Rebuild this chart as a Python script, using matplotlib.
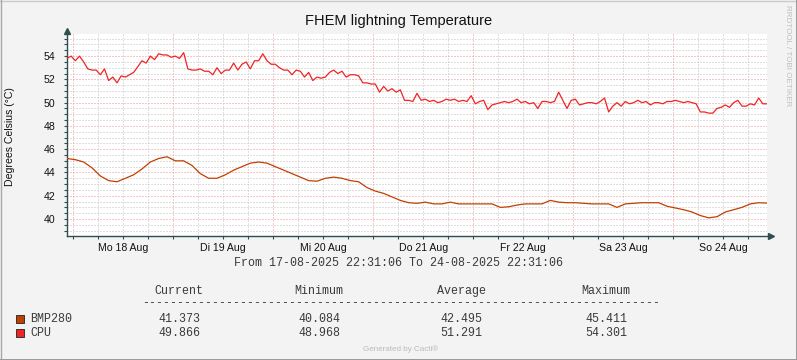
import matplotlib
matplotlib.use("Agg")
import matplotlib.pyplot as plt
import numpy as np
import pandas as pd
from matplotlib.lines import Line2D
from matplotlib.patches import Rectangle

# ---- data -------------------------------------------------------------
start = pd.Timestamp("2025-08-17 22:31:06")
end = pd.Timestamp("2025-08-24 22:31:06")

# CPU temperature, one reading per hour
cpu = [
    53.8, 54.0, 53.6, 54.0, 53.5, 52.9, 52.8, 52.8, 52.4, 52.9,
    51.9, 52.2, 51.7, 52.3, 52.2, 52.4, 52.6, 53.1, 53.6, 53.4,
    54.0, 53.7, 54.2, 54.1, 54.1, 53.9, 54.0, 53.8, 54.3, 52.9,
    52.8, 52.8, 52.9, 52.7, 52.7, 52.4, 53.0, 52.5, 52.8, 52.8,
    53.4, 52.8, 53.3, 53.5, 52.9, 53.6, 53.6, 54.2, 53.6, 53.3,
    53.3, 53.0, 52.8, 52.8, 52.4, 52.8, 52.7, 52.2, 52.6, 51.9,
    52.2, 52.1, 52.2, 52.6, 52.8, 52.5, 52.7, 52.2, 52.4, 52.4,
    52.3, 51.7, 51.7, 51.6, 51.6, 50.9, 51.4, 51.0, 51.2, 50.9,
    51.1, 50.2, 50.2, 50.1, 50.8, 50.2, 50.3, 50.1, 50.2, 50.0,
    50.1, 50.3, 50.2, 50.3, 50.1, 50.2, 50.1, 50.6, 49.9, 50.1,
    50.2, 49.4, 49.8, 49.9, 50.0, 50.1, 50.0, 50.1, 50.3, 50.0,
    50.1, 49.9, 50.0, 49.5, 50.1, 50.1, 50.0, 50.1, 50.9, 50.2,
    49.5, 50.2, 50.3, 49.8, 49.9, 50.0, 50.0, 49.9, 50.1, 50.4,
    49.2, 49.7, 50.0, 49.7, 50.1, 49.9, 50.0, 50.2, 50.0, 50.1,
    49.8, 50.0, 50.0, 49.9, 50.1, 50.1, 50.2, 50.1, 50.0, 50.1,
    50.0, 49.9, 49.2, 49.2, 49.1, 49.1, 49.5, 49.6, 49.8, 49.6,
    50.0, 50.2, 49.7, 49.7, 49.9, 49.8, 50.4, 49.9, 49.9,
]

# BMP280 temperature, one reading every two hours
bmp280 = [
    45.2, 45.1, 44.9, 44.4, 43.7, 43.3, 43.2, 43.5, 43.8, 44.3,
    44.9, 45.2, 45.35, 45.0, 45.0, 44.6, 43.9, 43.5, 43.5, 43.8,
    44.2, 44.5, 44.8, 44.9, 44.8, 44.5, 44.2, 43.9, 43.6, 43.3,
    43.25, 43.5, 43.6, 43.5, 43.3, 43.2, 42.7, 42.4, 42.2, 41.9,
    41.6, 41.4, 41.35, 41.45, 41.3, 41.3, 41.45, 41.3, 41.3, 41.3,
    41.3, 41.3, 41.0, 41.05, 41.2, 41.3, 41.3, 41.3, 41.6, 41.45,
    41.4, 41.4, 41.35, 41.3, 41.3, 41.3, 41.0, 41.3, 41.35, 41.4,
    41.4, 41.4, 41.1, 40.95, 40.8, 40.6, 40.3, 40.1, 40.2, 40.6,
    40.8, 41.0, 41.3, 41.4, 41.37,
]

day_labels = ["Mo 18 Aug", "Di 19 Aug", "Mi 20 Aug", "Do 21 Aug",
              "Fr 22 Aug", "Sa 23 Aug", "So 24 Aug"]

names = ["BMP280", "CPU"]
colors = ["#C04000", "#F02424"]
current = [41.373, 49.866]
minimum = [40.084, 48.968]
average = [42.495, 51.291]
maximum = [45.411, 54.301]

# ---- figure -----------------------------------------------------------
W, H = 797, 360
SANS = ["Liberation Sans", "DejaVu Sans"]
MONO = ["Liberation Mono", "DejaVu Sans Mono"]
AXIS = "#2F4F4F"
TXT = "#3A3A3A"


def fx(px):
    return px / W


def fy(py):
    return 1 - py / H


fig = plt.figure(figsize=(W / 100, H / 100), dpi=100, facecolor="#F3F3F3")
ax = fig.add_axes([fx(67), fy(236), 700 / W, 202 / H])
ax.set_facecolor("white")

cpu_times = pd.date_range(start, end, freq="1h")
bmp_times = pd.date_range(start, end, freq="2h")

ax.set_xlim(start, end)
ax.set_ylim(38.54, 55.9)

# dotted grid
for v in np.arange(39, 55.6, 0.5):
    major = v % 2 == 0
    ax.axhline(v, color="#EE9090" if major else "#C0C0C0", lw=0.72,
               ls=(0, (1, 2)), zorder=1)
six_hours = pd.date_range("2025-08-18 00:00", "2025-08-24 18:00", freq="6h")
for t in six_hours:
    ax.axvline(t, color="#EE9090" if t.hour == 0 else "#C0C0C0", lw=0.72,
               ls=(0, (1, 2)), zorder=1)

ax.plot(bmp_times, bmp280, color=colors[0], lw=0.9, zorder=3)
ax.plot(cpu_times, cpu, color=colors[1], lw=0.9, zorder=3)

# axes, ticks
for s in ["top", "right"]:
    ax.spines[s].set_visible(False)
for s in ["left", "bottom"]:
    ax.spines[s].set_color(AXIS)
    ax.spines[s].set_linewidth(1.0)

noons = pd.date_range("2025-08-18 12:00", periods=7, freq="D")
ax.set_xticks(noons, labels=day_labels)
ax.set_xticks(six_hours, minor=True)
ax.set_yticks(np.arange(40, 55, 2), labels=[str(v) for v in range(40, 55, 2)])
ax.set_yticks(np.arange(39, 55.6, 0.5), minor=True)
ax.tick_params(axis="both", which="both", direction="out", color=AXIS,
               width=0.8, labelsize=7.6)
ax.tick_params(axis="both", which="major", length=2.5)
ax.tick_params(axis="both", which="minor", length=2)
ax.tick_params(axis="x", pad=2.5)
ax.tick_params(axis="y", pad=6)
for lab in ax.get_xticklabels() + ax.get_yticklabels():
    lab.set_family(SANS)
    lab.set_color("#111111")

# axis arrows
ax.plot([1.006], [0], marker=">", ms=4.5, color=AXIS, transform=ax.transAxes,
        clip_on=False, zorder=5)
ax.plot([0], [1.015], marker="^", ms=4.5, color=AXIS, transform=ax.transAxes,
        clip_on=False, zorder=5)

# ---- texts ------------------------------------------------------------
fig.text(fx(399), fy(21), "FHEM lightning Temperature", ha="center",
         va="center", fontsize=10.5, family=SANS, color="#111111")
fig.text(fx(10), fy(137), "Degrees Celsius (°C)", ha="center", va="center",
         rotation=90, fontsize=7.6, family=SANS, color="#111111")
fig.text(fx(788), fy(56), "RRDTOOL / TOBI OETIKER", ha="center", va="center",
         rotation=270, fontsize=5.8, family=SANS, color="#BEBEBE")
fig.text(fx(398), fy(263), "From 17-08-2025 22:31:06 To 24-08-2025 22:31:06",
         ha="center", va="center", fontsize=8.4, family=MONO, color=TXT)

col_x = [179, 319, 461, 606]
for x, head in zip(col_x, ["Current", "Minimum", "Average", "Maximum"]):
    fig.text(fx(x), fy(291), head, ha="center", va="center", fontsize=8.4,
             family=MONO, color=TXT)
fig.text(fx(401), fy(303), "-" * 74, ha="center", va="center", fontsize=8.4,
         family=MONO, color=TXT)

row_y = [319, 332.5]
for i, name in enumerate(names):
    y = row_y[i]
    fig.add_artist(Rectangle((fx(15.5), fy(y + 4.2)), 8 / W, 8 / H,
                             transform=fig.transFigure, facecolor=colors[i],
                             edgecolor="#333333", lw=0.7))
    fig.text(fx(30), fy(y), name, ha="left", va="center", fontsize=8.4,
             family=MONO, color=TXT)
    vals = [current[i], minimum[i], average[i], maximum[i]]
    for x, v in zip(col_x, vals):
        fig.text(fx(x), fy(y), f"{v:.3f}", ha="center", va="center",
                 fontsize=8.4, family=MONO, color=TXT)

fig.text(fx(401), fy(349.5), "Generated by Cacti®", ha="center", va="center",
         fontsize=5.8, family=SANS, color="#BBBBBB")

# border
fig.add_artist(Line2D([0, 1], [fy(0.5), fy(0.5)], transform=fig.transFigure,
                      color="#CBCBCB", lw=1))
fig.add_artist(Line2D([fx(0.5), fx(0.5)], [0, 1], transform=fig.transFigure,
                      color="#A8A8A8", lw=1))
fig.add_artist(Line2D([0, 1], [fy(359.5), fy(359.5)], transform=fig.transFigure,
                      color="#999999", lw=1.4))
fig.add_artist(Line2D([fx(796.5), fx(796.5)], [0, 1], transform=fig.transFigure,
                      color="#999999", lw=1.4))

fig.savefig("out.png", dpi=100, facecolor=fig.get_facecolor())
